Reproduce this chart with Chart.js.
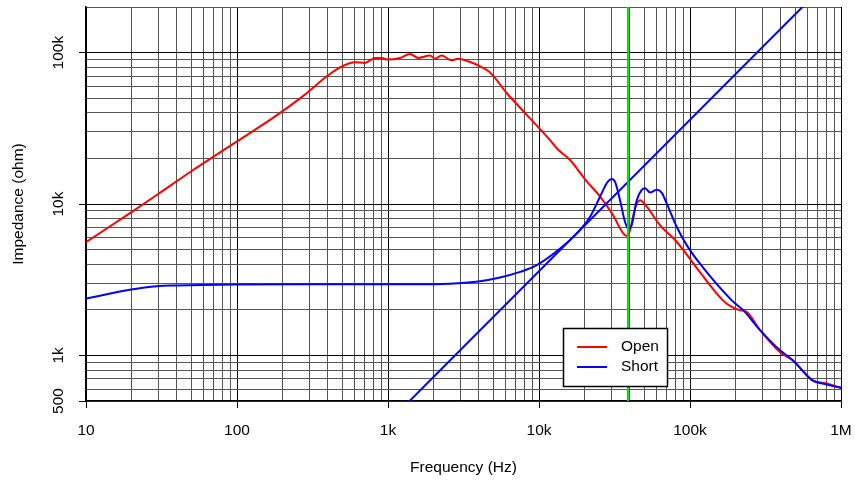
<!DOCTYPE html>
<html lang="en">
<head>
  <meta charset="UTF-8" />
  <title>Impedance vs Frequency</title>
  <script src="https://cdn.jsdelivr.net/npm/chart.js"></script>
  <style>
    body {
      margin: 0;
      background: #ffffff;
    }
    #wrap {
      width: 855px;
      height: 484px;
      position: relative;
    }
  </style>
</head>
<body>
  <div id="wrap"><canvas id="impedanceChart"></canvas></div>

  <script>
    // Open-circuit sweep (Hz, ohm)
    const openFreq = [10, 19.9, 29.9, 49.5, 100, 172, 272, 399, 476, 604, 704, 820, 908, 985, 1200, 1399, 1581, 1897, 2047, 2268, 2642, 2909, 3389, 4066, 4736, 6105, 8290, 11800, 13400, 16000, 20700, 25400, 30900, 36000, 38400, 40100, 43300, 46700, 51700, 63200, 81600, 116000, 165000, 189000, 214000, 237000, 291000, 395000, 481000, 653000, 804000, 1000000];
    const openZ = [5600, 8810, 11600, 16400, 25900, 36900, 51400, 70500, 79300, 86300, 85500, 92200, 92200, 89900, 92200, 98000, 92200, 95500, 91200, 95500, 88900, 91200, 87600, 81100, 74000, 54100, 38800, 26500, 22800, 19600, 14100, 11200, 8450, 6430, 6140, 6730, 9410, 10600, 9600, 7260, 5630, 3560, 2310, 2090, 1990, 1940, 1470, 1050, 927, 683, 653, 610];

    // Short-circuit sweep (Hz, ohm)
    const shortFreq = [10, 19.9, 29.4, 39.9, 99.5, 261, 985, 1897, 2909, 4066, 5520, 7490, 9660, 13800, 17800, 21800, 25400, 28100, 30300, 31800, 34400, 37100, 39000, 41100, 44400, 47900, 50400, 54400, 60200, 64900, 70100, 81600, 95100, 116000, 189000, 225000, 291000, 395000, 481000, 639000, 804000, 1000000];
    const shortZ = [2375, 2723, 2864, 2897, 2940, 2950, 2950, 2950, 3000, 3090, 3270, 3560, 3950, 5090, 6400, 8240, 11200, 13700, 14600, 14100, 10600, 7640, 6900, 7260, 10600, 12400, 12700, 11900, 12400, 11900, 10100, 7080, 5350, 4050, 2310, 1990, 1470, 1080, 927, 690, 643, 611];

    // Inductive reactance reference line
    const coilFreq = [1000, 1000000];
    const coilZ = [360, 360000];

    // Marker frequency
    const markerFreq = [38800, 38800];
    const markerZ = [500, 200000];

    const xTickValues = [10, 100, 1000, 10000, 100000, 1000000];
    const xTickLabels = ['10', '100', '1k', '10k', '100k', '1M'];
    const yTickValues = [500, 1000, 10000, 100000];
    const yTickLabels = ['500', '1k', '10k', '100k'];

    const seriesNames = ['Open', 'Short'];
    const seriesColors = ['#ff0000', '#0000ff'];

    const toPoints = (xs, ys) => xs.map((x, i) => ({ x: x, y: ys[i] }));

    // log grid: 1..9 x 10^n between the limits
    function logGrid(min, max) {
      const out = [];
      for (let e = Math.floor(Math.log10(min)); e <= Math.ceil(Math.log10(max)); e++) {
        for (let m = 1; m <= 9; m++) {
          const v = m * Math.pow(10, e);
          if (v >= min * 0.999 && v <= max * 1.001) out.push(v);
        }
      }
      return out;
    }

    const isDecade = v => Math.abs(Math.log10(v) - Math.round(Math.log10(v))) < 1e-6;
    const near = (v, list) => list.findIndex(t => Math.abs(t - v) / t < 1e-6);

    Chart.defaults.font.family = "'Liberation Sans', Arial, Helvetica, sans-serif";
    Chart.defaults.font.size = 15.5;
    Chart.defaults.color = '#000';

    // rotated y tick labels and boxed legend
    const extras = {
      id: 'extras',
      afterDraw(chart) {
        const ctx = chart.ctx;
        const y = chart.scales.y;
        const area = chart.chartArea;
        ctx.save();
        ctx.fillStyle = '#000';
        ctx.font = "15.5px 'Liberation Sans', Arial, sans-serif";
        ctx.textAlign = 'center';
        ctx.textBaseline = 'alphabetic';
        yTickValues.forEach((v, i) => {
          ctx.save();
          ctx.translate(area.left - 23, y.getPixelForValue(v));
          ctx.rotate(-Math.PI / 2);
          ctx.fillText(yTickLabels[i], 0, 0);
          ctx.restore();
        });

        const bx = area.left + 477, by = area.top + 321, bw = 104, bh = 58;
        ctx.fillStyle = '#fff';
        ctx.fillRect(bx, by, bw, bh);
        ctx.strokeStyle = '#000';
        ctx.lineWidth = 1.5;
        ctx.strokeRect(bx + 0.5, by + 0.5, bw, bh);
        ctx.textAlign = 'left';
        ctx.textBaseline = 'middle';
        seriesNames.forEach((name, i) => {
          const ly = by + 19 + i * 20;
          ctx.strokeStyle = seriesColors[i];
          ctx.lineWidth = 2;
          ctx.beginPath();
          ctx.moveTo(bx + 14, ly);
          ctx.lineTo(bx + 44, ly);
          ctx.stroke();
          ctx.fillStyle = '#000';
          ctx.fillText(name, bx + 58, ly);
        });
        ctx.restore();
      }
    };

    new Chart(document.getElementById('impedanceChart'), {
      type: 'line',
      data: {
        datasets: [
          { label: 'marker', data: toPoints(markerFreq, markerZ), borderColor: 'rgb(0,225,0)', borderWidth: 2, order: 0 },
          { label: seriesNames[1], data: toPoints(shortFreq, shortZ), borderColor: seriesColors[1], borderWidth: 2, cubicInterpolationMode: 'monotone', order: 1 },
          { label: 'coil', data: toPoints(coilFreq, coilZ), borderColor: seriesColors[1], borderWidth: 2, order: 1 },
          { label: seriesNames[0], data: toPoints(openFreq, openZ), borderColor: seriesColors[0], borderWidth: 2, cubicInterpolationMode: 'monotone', order: 2 }
        ]
      },
      options: {
        responsive: true,
        maintainAspectRatio: false,
        animation: false,
        parsing: false,
        elements: { point: { radius: 0 } },
        layout: { padding: { left: 0, right: 14, top: 7, bottom: 0 } },
        plugins: { legend: { display: false }, tooltip: { enabled: false } },
        scales: {
          x: {
            type: 'logarithmic',
            min: 10,
            max: 1000000,
            afterBuildTicks: s => { s.ticks = logGrid(10, 1000000).map(v => ({ value: v })); },
            afterFit: s => { s.height = 83; s.paddingLeft = 0; s.paddingRight = 0; },
            ticks: {
              autoSkip: false,
              maxRotation: 0,
              padding: 13,
              callback: v => { const i = near(v, xTickValues); return i >= 0 ? xTickLabels[i] : ''; }
            },
            grid: {
              color: c => isDecade(c.tick.value) ? '#000' : '#555',
              tickColor: c => near(c.tick.value, xTickValues) >= 0 ? '#000' : 'rgba(0,0,0,0)',
              tickLength: 7,
              lineWidth: 1
            },
            border: { color: '#000', width: 1.5 },
            title: { display: true, text: 'Frequency (Hz)', padding: { top: 0, bottom: 7 } }
          },
          y: {
            type: 'logarithmic',
            min: 500,
            max: 200000,
            afterBuildTicks: s => { s.ticks = logGrid(500, 200000).map(v => ({ value: v })); },
            afterFit: s => { s.width = 86; s.paddingTop = 0; s.paddingBottom = 0; },
            ticks: { display: false, autoSkip: false },
            grid: {
              color: c => isDecade(c.tick.value) ? '#000' : '#555',
              tickColor: c => near(c.tick.value, yTickValues) >= 0 ? '#000' : 'rgba(0,0,0,0)',
              tickLength: 7,
              lineWidth: 1
            },
            border: { color: '#000', width: 1.5 },
            title: { display: true, text: 'Impedance (ohm)', padding: { top: 9, bottom: 0 } }
          }
        }
      },
      plugins: [extras]
    });
  </script>
</body>
</html>
